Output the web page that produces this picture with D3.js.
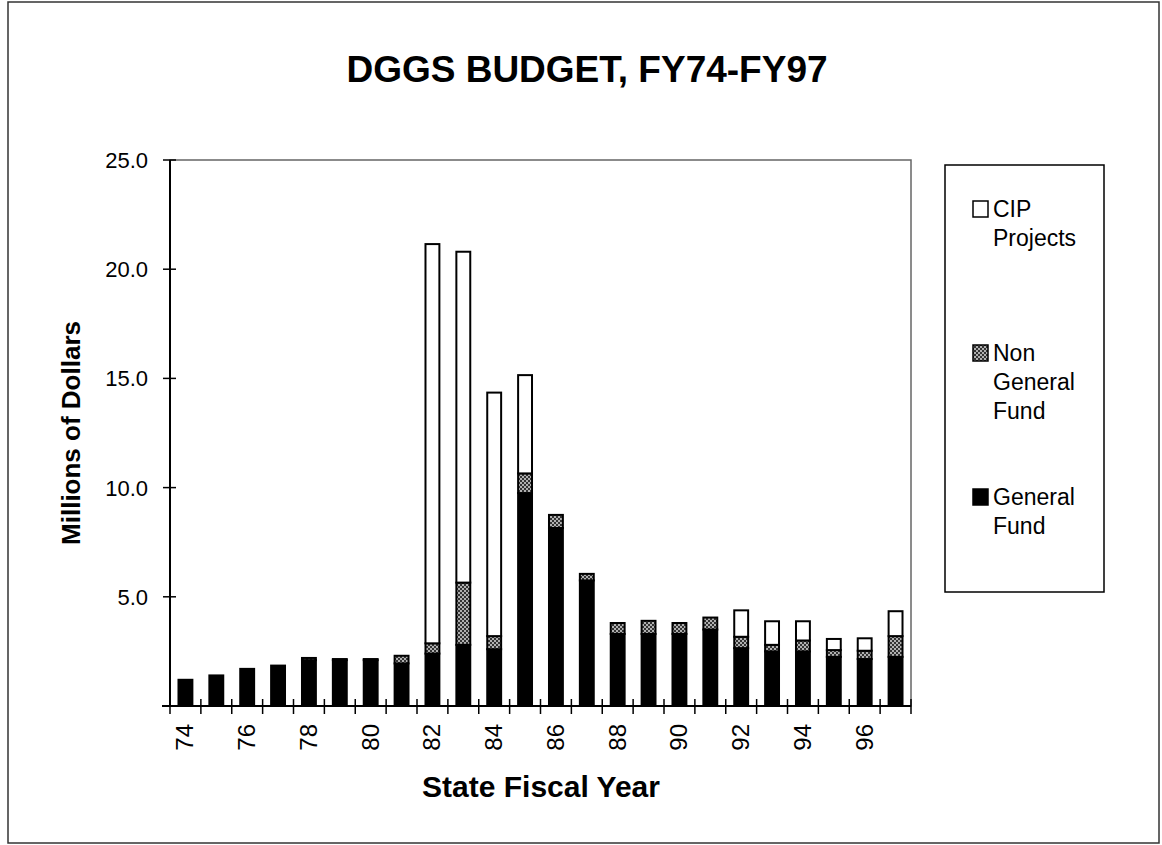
<!DOCTYPE html>
<html>
<head>
<meta charset="utf-8">
<script src="https://cdn.jsdelivr.net/npm/d3@7"></script>
<style>
body { margin: 0; background: #fff; }
text { font-family: "Liberation Sans", Arial, sans-serif; fill: #000; }
</style>
</head>
<body>
<svg id="chart"></svg>
<script>
// fiscal years and budget parts, millions of dollars
var years = ["74","75","76","77","78","79","80","81","82","83","84","85",
	"86","87","88","89","90","91","92","93","94","95","96","97"];
var generalFund = [1.2, 1.4, 1.7, 1.85, 2.1, 2.1, 2.1, 1.95, 2.4, 2.8, 2.6, 9.75,
	8.15, 5.75, 3.3, 3.3, 3.3, 3.5, 2.65, 2.5, 2.5, 2.25, 2.15, 2.25];
var nonGeneralFund = [0, 0, 0, 0, 0.1, 0.05, 0.05, 0.35, 0.47, 2.85, 0.6, 0.9,
	0.6, 0.3, 0.5, 0.6, 0.5, 0.55, 0.52, 0.3, 0.5, 0.31, 0.38, 0.95];
var cipProjects = [0, 0, 0, 0, 0, 0, 0, 0, 18.28, 15.15, 11.15, 4.5,
	0, 0, 0, 0, 0, 0, 1.21, 1.08, 0.88, 0.51, 0.57, 1.14];
var yTicks = [5, 10, 15, 20, 25];
var xLabels = ["74","76","78","80","82","84","86","88","90","92","94","96"];
var seriesNames = ["General Fund", "Non General Fund", "CIP Projects"];

var w = 1162, h = 845;
var plotLeft = 170, plotRight = 911, plotTop = 160, plotBottom = 706;

var svg = d3.select('#chart').attr('width', w).attr('height', h);

// dither-like fill for the non general fund
var defs = svg.append('defs');
var pat = defs.append('pattern').attr('id', 'ngf')
	.attr('width', 4).attr('height', 4).attr('patternUnits', 'userSpaceOnUse');
pat.append('rect').attr('width', 4).attr('height', 4).attr('fill', '#b0b0b0');
pat.append('rect').attr('width', 2).attr('height', 2).attr('fill', '#333');
pat.append('rect').attr('x', 2).attr('y', 2).attr('width', 2).attr('height', 2).attr('fill', '#333');

var fills = ["#000", "url(#ngf)", "#fff"];

// outer frame
svg.append('rect').attr('x', 8).attr('y', 2).attr('width', 1151).attr('height', 841)
	.attr('fill', 'none').attr('stroke', '#333').attr('stroke-width', 1.5);

svg.append('text').attr('x', 587).attr('y', 82).attr('text-anchor', 'middle')
	.attr('font-size', '37px').attr('font-weight', 'bold')
	.text('DGGS BUDGET, FY74-FY97');

var table = years.map(function(d, i) {
	return {year: d, "General Fund": generalFund[i], "Non General Fund": nonGeneralFund[i], "CIP Projects": cipProjects[i]};
});
var stacked = d3.stack().keys(seriesNames)(table);

var x = d3.scaleBand().domain(years).range([plotLeft, plotRight]).paddingInner(0.55).paddingOuter(0.275);
var y = d3.scaleLinear().domain([0, 25]).range([plotBottom, plotTop]);

// plot area border
svg.append('rect').attr('x', plotLeft).attr('y', plotTop).attr('width', plotRight - plotLeft).attr('height', plotBottom - plotTop)
	.attr('fill', 'none').attr('stroke', '#666').attr('stroke-width', 1.5);

var groups = svg.selectAll('g.series').data(stacked).join('g')
	.attr('class', 'series')
	.attr('fill', function(d, i) { return fills[i]; });

groups.selectAll('rect')
	.data(function(d) { return d.filter(function(s) { return s[1] - s[0] > 0; }); })
	.join('rect')
	.attr('x', function(d) { return x(d.data.year); })
	.attr('width', x.bandwidth())
	.attr('y', function(d) { return y(d[1]); })
	.attr('height', function(d) { return y(d[0]) - y(d[1]); })
	.attr('stroke', '#000')
	.attr('stroke-width', 2);

// y axis
svg.append('line').attr('x1', plotLeft).attr('x2', plotLeft).attr('y1', plotTop).attr('y2', plotBottom)
	.attr('stroke', '#000').attr('stroke-width', 2);
svg.selectAll('line.ytick').data(yTicks).join('line').attr('class', 'ytick')
	.attr('x1', plotLeft - 7).attr('x2', plotLeft + 6)
	.attr('y1', function(d) { return y(d); }).attr('y2', function(d) { return y(d); })
	.attr('stroke', '#000').attr('stroke-width', 1.5);
svg.selectAll('text.ylab').data(yTicks).join('text').attr('class', 'ylab')
	.attr('x', plotLeft - 22).attr('y', function(d) { return y(d) + 8; })
	.attr('text-anchor', 'end').attr('font-size', '22px')
	.text(function(d) { return d3.format('.1f')(d); });

// x axis
var step = x.step();
var bounds = years.map(function(d) { return x(d) - (step - x.bandwidth()) / 2; });
bounds.push(plotRight);
svg.append('line').attr('x1', plotLeft - 8).attr('x2', plotRight).attr('y1', plotBottom).attr('y2', plotBottom)
	.attr('stroke', '#000').attr('stroke-width', 2);
svg.selectAll('line.xtick').data(bounds).join('line').attr('class', 'xtick')
	.attr('x1', function(d) { return d; }).attr('x2', function(d) { return d; })
	.attr('y1', plotBottom - 7).attr('y2', plotBottom + 8)
	.attr('stroke', '#000').attr('stroke-width', 1.5);
svg.selectAll('text.xlab').data(xLabels).join('text').attr('class', 'xlab')
	.attr('transform', function(d) { return 'translate(' + (x(d) + x.bandwidth() / 2 + 8) + ',' + (plotBottom + 18) + ') rotate(-90)'; })
	.attr('text-anchor', 'end').attr('font-size', '24px')
	.text(function(d) { return d; });

svg.append('text').attr('x', 541).attr('y', 797).attr('text-anchor', 'middle')
	.attr('font-size', '30px').attr('font-weight', 'bold').text('State Fiscal Year');
svg.append('text').attr('transform', 'translate(80,433) rotate(-90)').attr('text-anchor', 'middle')
	.attr('font-size', '26px').attr('font-weight', 'bold').text('Millions of Dollars');

// legend
var lg = svg.append('g');
lg.append('rect').attr('x', 945).attr('y', 165).attr('width', 159).attr('height', 427)
	.attr('fill', '#fff').attr('stroke', '#000').attr('stroke-width', 1.5);
var legendItems = [
	{fill: fills[2], lines: ["CIP", "Projects"], y: 217},
	{fill: fills[1], lines: ["Non", "General", "Fund"], y: 361},
	{fill: fills[0], lines: ["General", "Fund"], y: 505}
];
legendItems.forEach(function(it) {
	lg.append('rect').attr('x', 973).attr('y', it.y - 16).attr('width', 15).attr('height', 16)
		.attr('fill', it.fill).attr('stroke', '#000').attr('stroke-width', 1.5);
	var t = lg.append('text').attr('x', 993).attr('y', it.y).attr('font-size', '23px');
	it.lines.forEach(function(l, i) {
		t.append('tspan').attr('x', 993).attr('dy', i ? 29 : 0).text(l);
	});
});
</script>
</body>
</html>
